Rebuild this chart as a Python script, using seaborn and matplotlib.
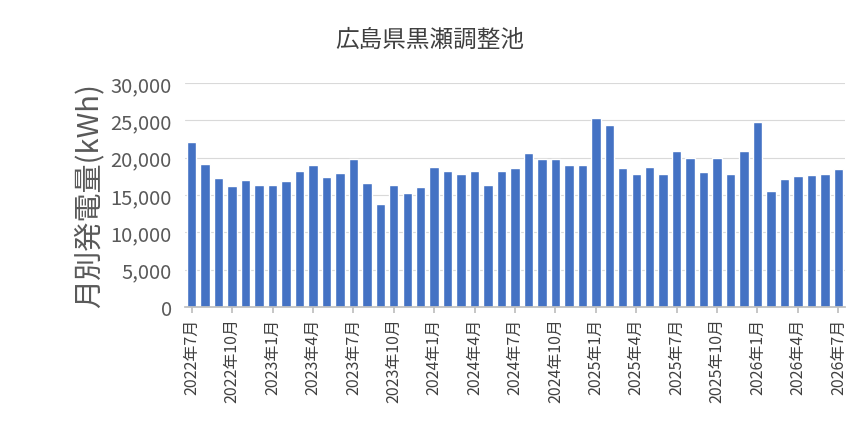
import matplotlib
matplotlib.use("Agg")
import matplotlib.pyplot as plt
import seaborn as sns
import pandas as pd

months = [f"{y}年{m}月" for y in range(2022, 2027) for m in range(1, 13)]
months = months[6:6+49]
values = [22100, 19100, 17300, 16200, 17000, 16300, 16300, 16900, 18200, 19000, 17400, 17900,
          19800, 16600, 13800, 16300, 15300, 16100, 18700, 18200, 17800, 18200, 16300, 18200,
          18600, 20600, 19800, 19800, 19000, 19000, 25300, 24400, 18600, 17800, 18700, 17800,
          20900, 19900, 18100, 19900, 17800, 20900, 24800, 15500, 17100, 17500, 17700, 17800, 18500]
title = "広島県黒瀬調整池"
ylabel = "月別発電量(kWh)"

sns.set_theme(style="white")
plt.rcParams['font.family'] = ['Noto Sans CJK JP', 'DejaVu Sans']

df = pd.DataFrame({"month": months, "value": values})
fig = plt.figure(figsize=(8.6, 4.31), dpi=100)
ax = fig.add_axes([185/860, 1-308/431, 660/860, 224/431])
sns.barplot(data=df, x="month", y="value", color="#4472C4", saturation=1, width=0.7, ax=ax)
ax.set_ylim(0, 30000)
ax.set_yticks(range(0, 30001, 5000))
ax.set_yticklabels([f"{v:,}" for v in range(0, 30001, 5000)], fontsize=14.5, color="#595959")
ax.yaxis.grid(True, color="#d9d9d9", linewidth=0.8)
ax.set_axisbelow(True)
ticks = list(range(0, len(months), 3))
ax.set_xticks(ticks)
ax.set_xticklabels([months[i] for i in ticks], rotation=90, fontsize=11.5, color="#404040")
ax.tick_params(axis="x", length=4, color="#bfbfbf", bottom=True)
ax.set_xlim(-0.5, len(months)-0.5)
for s in ["top", "right", "left"]:
    ax.spines[s].set_visible(False)
ax.spines["bottom"].set_color("#bfbfbf")
ax.set_xlabel("")
ax.set_ylabel(ylabel, fontsize=21, color="#595959")
fig.text(0.5, 1-40/431, title, ha="center", va="center", fontsize=17, color="#404040")
fig.savefig("out.png", dpi=100)
